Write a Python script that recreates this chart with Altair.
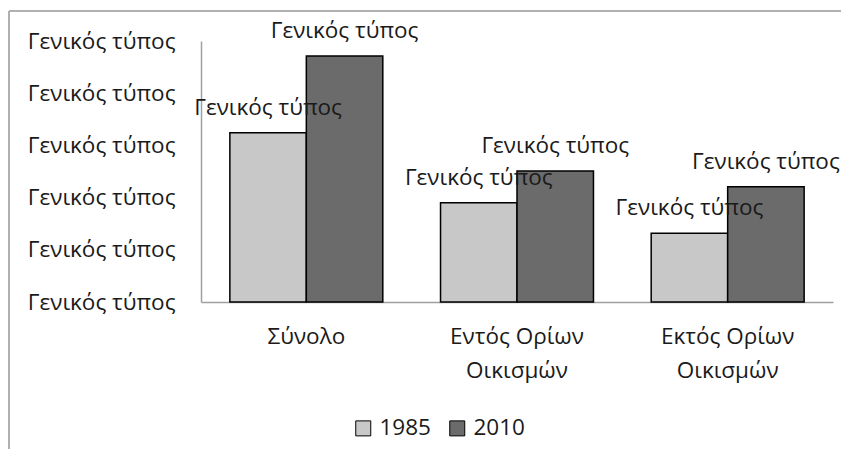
import altair as alt
import pandas as pd

categories = ["Σύνολο", "Εντός Ορίων Οικισμών", "Εκτός Ορίων Οικισμών"]
series = ["1985", "2010"]
values_1985 = [64.8, 38.0, 26.3]
values_2010 = [94.3, 50.2, 44.2]
y_ticks = [0, 20, 40, 60, 80, 100]
label_text = "Γενικός τύπος"
colors = ["#c8c8c8", "#6b6b6b"]

rows = []
for c, v in zip(categories, values_1985):
    rows.append({"cat": c, "year": "1985", "value": v, "label": label_text})
for c, v in zip(categories, values_2010):
    rows.append({"cat": c, "year": "2010", "value": v, "label": label_text})
df = pd.DataFrame(rows)

FONT = "Open Sans"
FS = 22.5

x_enc = alt.X(
    "cat:N",
    sort=categories,
    scale=alt.Scale(paddingInner=0.274, paddingOuter=0.137),
    axis=alt.Axis(
        title=None,
        ticks=False,
        labelAngle=0,
        labelPadding=23,
        labelLineHeight=34,
        labelFont=FONT,
        labelFontSize=FS,
        labelColor="#1a1a1a",
        domainColor="#a0a0a0",
        domainWidth=1.5,
        labelExpr="indexof(datum.label, ' Οικισμών') > 0 ? [replace(datum.label, ' Οικισμών', ''), 'Οικισμών'] : datum.label",
    ),
)
y_enc = alt.Y(
    "value:Q",
    scale=alt.Scale(domain=[0, 100], nice=False),
    axis=alt.Axis(
        title=None,
        values=y_ticks,
        ticks=False,
        grid=False,
        labelPadding=26,
        labelFont=FONT,
        labelFontSize=FS,
        labelColor="#1a1a1a",
        domainColor="#a0a0a0",
        domainWidth=1.5,
        labelExpr="'" + label_text + "'",
    ),
)
xoff = alt.XOffset("year:N", sort=series, scale=alt.Scale(paddingInner=0, paddingOuter=0))

base = alt.Chart(df)
bars = base.mark_bar(stroke="black", strokeWidth=1.5).encode(
    x=x_enc,
    xOffset=xoff,
    y=y_enc,
    color=alt.Color(
        "year:N",
        sort=series,
        scale=alt.Scale(domain=series, range=colors),
        legend=alt.Legend(
            title=None,
            orient="none",
            direction="horizontal",
            legendX=151,
            legendY=376,
            symbolType="square",
            symbolSize=225,
            symbolStrokeColor="black",
            symbolStrokeWidth=1,
            labelFont=FONT,
            labelFontSize=FS,
            labelColor="#1a1a1a",
            labelOffset=5,
            columnPadding=15,
        ),
    ),
)
texts = base.mark_text(
    baseline="alphabetic", dy=-18, font=FONT, fontSize=FS, color="#1a1a1a"
).encode(x=alt.X("cat:N", sort=categories), xOffset=alt.XOffset("year:N", sort=series), y="value:Q", text="label:N")

one = alt.Chart(pd.DataFrame({"a": [0]}))
border_top = one.mark_rule(color="#b0b0b0", strokeWidth=2).encode(
    x=alt.value(-192), x2=alt.value(640), y=alt.value(-30)
)
border_left = one.mark_rule(color="#b0b0b0", strokeWidth=2).encode(
    x=alt.value(-192), y=alt.value(-30), y2=alt.value(410)
)

chart = (
    alt.layer(border_top, border_left, bars, texts)
    .properties(
        width=632,
        height=261,
        autosize=alt.AutoSizeParams(type="none"),
        padding={"left": 193, "top": 33, "right": 8, "bottom": 147},
    )
    .configure_view(stroke=None)
)
chart.save("out.html", embed_options={"renderer": "svg", "actions": False})
